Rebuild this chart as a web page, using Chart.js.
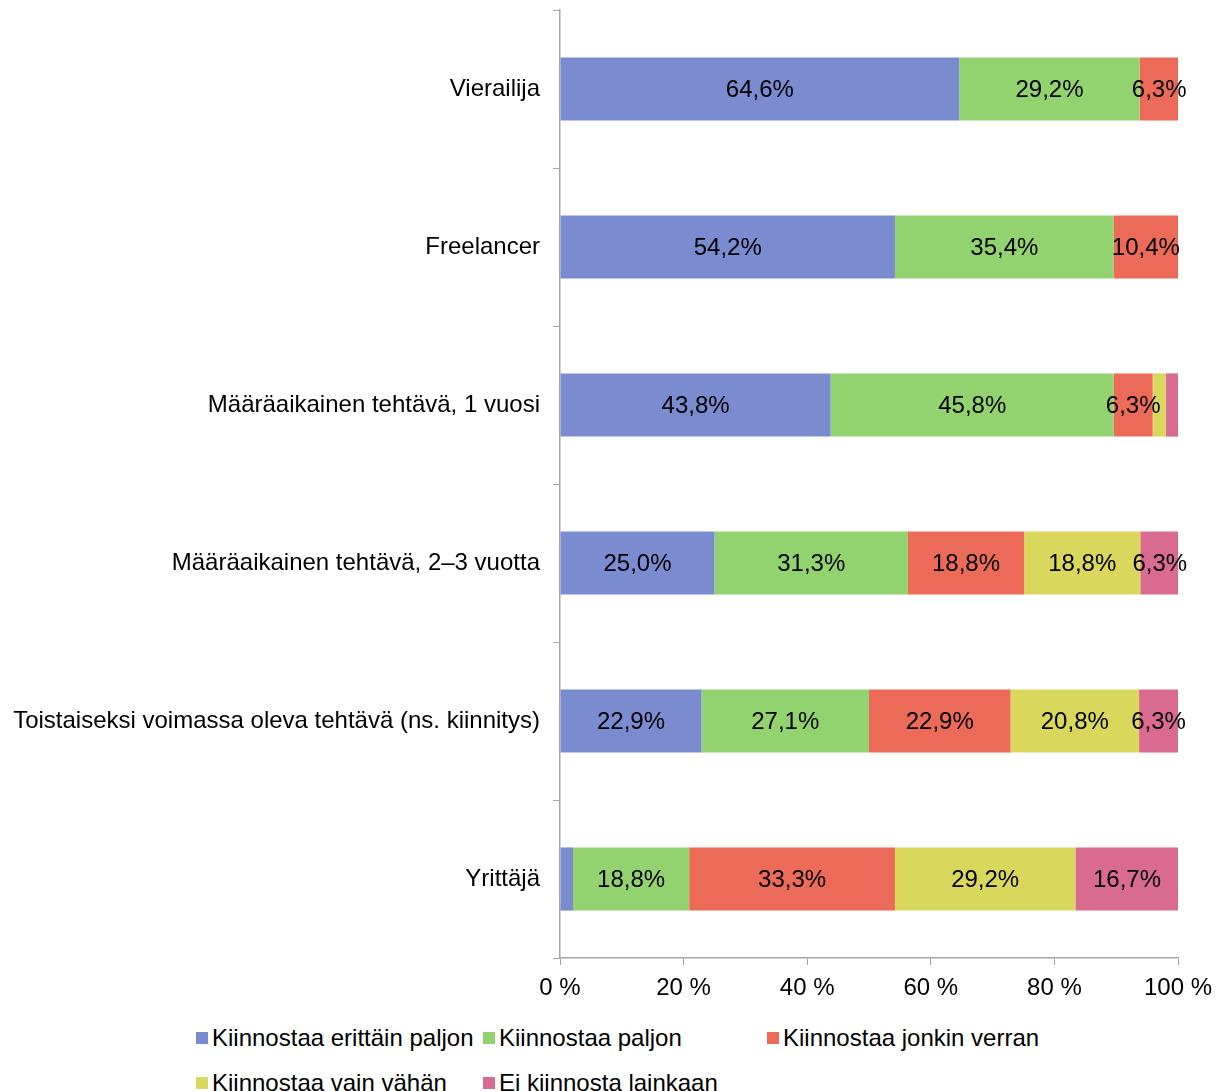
<!DOCTYPE html>
<html>
<head>
<meta charset="utf-8">
<script src="https://cdn.jsdelivr.net/npm/chart.js@4"></script>
<style>
  body { margin: 0; background: #fff; }
  #wrap { position: relative; width: 1225px; height: 1091px; overflow: hidden; }
  #chart { position: absolute; left: 0; top: 0; }
  .lg { position: absolute; font: 24px "Liberation Sans", Arial, sans-serif; color: #000; white-space: nowrap; line-height: 24px; }
  .lg i { position: absolute; left: 0; top: 6px; width: 12px; height: 12px; }
  .lg span { position: absolute; left: 16px; top: 0; }
</style>
</head>
<body>
<div id="wrap">
  <canvas id="chart" width="1225" height="1015"></canvas>
  <div id="legend"></div>
</div>
<script>
// categories, top to bottom
const categories = [
  'Vierailija',
  'Freelancer',
  'Määräaikainen tehtävä, 1 vuosi',
  'Määräaikainen tehtävä, 2–3 vuotta',
  'Toistaiseksi voimassa oleva tehtävä (ns. kiinnitys)',
  'Yrittäjä'
]

const seriesNames = [
  'Kiinnostaa erittäin paljon',
  'Kiinnostaa paljon',
  'Kiinnostaa jonkin verran',
  'Kiinnostaa vain vähän',
  'Ei kiinnosta lainkaan'
]

// percentages per category
const erittainPaljon = [64.6, 54.2, 43.8, 25.0, 22.9, 2.1]
const paljon         = [29.2, 35.4, 45.8, 31.3, 27.1, 18.8]
const jonkinVerran   = [6.3, 10.4, 6.3, 18.8, 22.9, 33.3]
const vainVahan      = [0, 0, 2.1, 18.8, 20.8, 29.2]
const eiLainkaan     = [0, 0, 2.1, 6.3, 6.3, 16.7]

const xTicks = [0, 20, 40, 60, 80, 100]

const colors = ['#7b8bcf', '#92d36f', '#ec6a58', '#d9d85c', '#d96b91']
const font = "'Liberation Sans', Arial, sans-serif"

const seriesValues = [erittainPaljon, paljon, jonkinVerran, vainVahan, eiLainkaan]

// draws the value in the middle of every segment that is wide enough
const segmentLabels = {
  id: 'segmentLabels',
  afterDatasetsDraw (chart) {
    const ctx = chart.ctx
    ctx.save()
    ctx.font = '24px ' + font
    ctx.fillStyle = '#000'
    ctx.textAlign = 'center'
    ctx.textBaseline = 'middle'
    chart.data.datasets.forEach((ds, i) => {
      chart.getDatasetMeta(i).data.forEach((bar, j) => {
        const v = ds.data[j]
        if (v < 5) return
        ctx.fillText(v.toFixed(1).replace('.', ',') + '%', (bar.x + bar.base) / 2, bar.y + 1)
      })
    })
    ctx.restore()
  }
}

const axisColor = '#a6a6a6'

new Chart(document.getElementById('chart'), {
  type: 'bar',
  data: {
    labels: categories,
    datasets: seriesNames.map((name, i) => ({
      label: name,
      data: seriesValues[i],
      backgroundColor: colors[i],
      borderWidth: 0,
      barPercentage: 0.5,
      categoryPercentage: 0.8
    }))
  },
  options: {
    indexAxis: 'y',
    responsive: false,
    animation: false,
    layout: { padding: { top: 10, right: 47, left: 0, bottom: 0 } },
    plugins: {
      legend: { display: false },
      tooltip: { enabled: false }
    },
    scales: {
      x: {
        stacked: true,
        min: 0,
        max: 100,
        afterBuildTicks: s => { s.ticks = xTicks.map(v => ({ value: v })) },
        afterFit: s => { s.height = 57 },
        grid: { drawOnChartArea: false, tickLength: 7, color: axisColor },
        border: { color: axisColor, width: 1.5 },
        ticks: {
          callback: v => v + ' %',
          color: '#000',
          padding: 9,
          maxRotation: 0,
          font: { family: font, size: 24 }
        }
      },
      y: {
        stacked: true,
        afterFit: s => {
          s.width = 560
          s.paddingTop = 0
          s.paddingBottom = 0
        },
        grid: { drawOnChartArea: false, tickLength: 7, color: axisColor, offset: true },
        border: { color: axisColor, width: 1.5 },
        ticks: {
          color: '#000',
          padding: 13,
          font: { family: font, size: 24 }
        }
      }
    }
  },
  plugins: [segmentLabels]
})

// legend laid out like the original, two rows
const legendPos = [[196, 1026], [483, 1026], [767, 1026], [196, 1071], [483, 1071]]
const legend = document.getElementById('legend')
seriesNames.forEach((name, i) => {
  const d = document.createElement('div')
  d.className = 'lg'
  d.style.left = legendPos[i][0] + 'px'
  d.style.top = legendPos[i][1] + 'px'
  d.innerHTML = '<i style="background:' + colors[i] + '"></i><span>' + name + '</span>'
  legend.appendChild(d)
})
</script>
</body>
</html>
